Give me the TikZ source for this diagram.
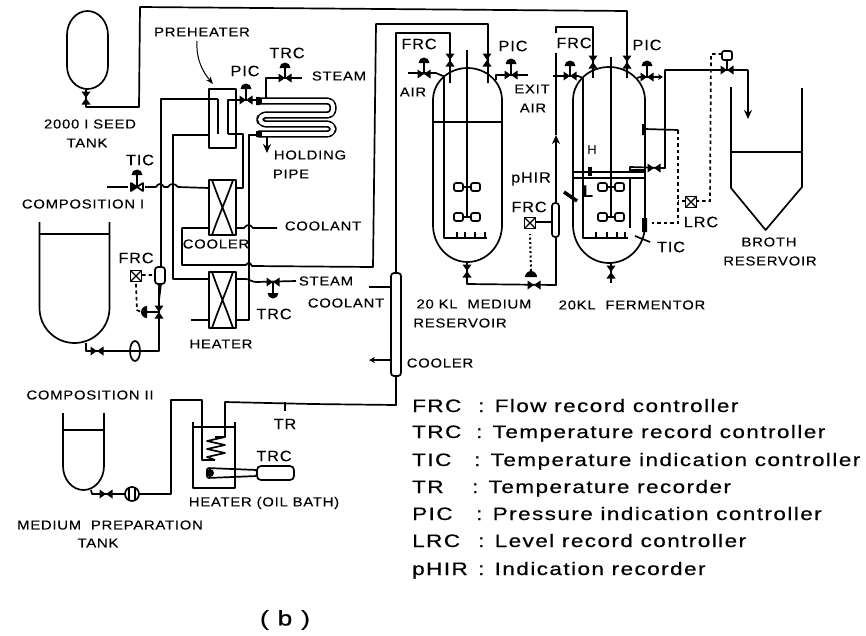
\documentclass[tikz,border=0pt]{standalone}
\usepackage{fontspec}
\setmainfont{Liberation Sans}
\newfontfamily\labfont[LetterSpace=6,FakeStretch=1.14,FakeBold=0.25]{Liberation Sans}
\newfontfamily\tagfont[LetterSpace=6,FakeStretch=1.08,FakeBold=0.25]{Liberation Sans}
\newfontfamily\legfont[LetterSpace=8,FakeStretch=1.25,FakeBold=0.5]{Liberation Sans}
\usetikzlibrary{arrows.meta}
\newcommand{\vvalve}[2]{\fill[black] (#1-4.5,#2-6.5)--(#1+4.5,#2-6.5)--(#1-4.5,#2+6.5)--(#1+4.5,#2+6.5)--cycle;}
\newcommand{\hvalve}[2]{\fill[black] (#1-6.5,#2-4.5)--(#1-6.5,#2+4.5)--(#1+6.5,#2-4.5)--(#1+6.5,#2+4.5)--cycle;}
\newcommand{\ovalve}[2]{\draw[pipe] (#1-6,#2-4)--(#1-6,#2+4)--(#1+6,#2-4)--(#1+6,#2+4)--cycle;}
\newcommand{\dome}[3]{\draw[pipe] (#1,#2)--(#1,#3); \fill[black] (#1-5.5,#3) arc[start angle=180,end angle=360,radius=5.5]--cycle;}
\newcommand{\domedown}[3]{\draw[pipe] (#1,#2)--(#1,#3); \fill[black] (#1-5.5,#3) arc[start angle=180,end angle=0,radius=5.5]--cycle;}
\newcommand{\capsule}[7]{\draw[pipe] (#1,#5) arc[start angle=180,end angle=360,x radius=(#3-#1)/2,y radius=#5-#4] -- (#3,#6) arc[start angle=0,end angle=180,x radius=(#3-#1)/2,y radius=#7-#6] -- cycle;}
\newcommand{\impeller}[2]{\draw[pipe,rounded corners=2pt] (#1-13,#2-4) rectangle (#1-4,#2+4); \draw[pipe,rounded corners=2pt] (#1+4,#2-4) rectangle (#1+13,#2+4); \draw[pipe] (#1-4,#2)--(#1+4,#2);}
\newcommand{\xbox}[2]{\draw[pipe,fill=white] (#1-5.5,#2-5.5) rectangle (#1+5.5,#2+5.5); \draw[thin1] (#1-5.5,#2-5.5)--(#1+5.5,#2+5.5) (#1+5.5,#2-5.5)--(#1-5.5,#2+5.5);}
\tikzset{
  pipe/.style={line width=1.7pt,black,line join=round},
  thin1/.style={line width=1.2pt,black},
  ctrl/.style={line width=1.7pt,black,dash pattern=on 3.5pt off 3pt},
  dotl/.style={line width=2pt,black,dash pattern=on 2pt off 2.5pt},
  flowarrow/.style={pipe,-{Stealth[length=9pt,width=8pt]}},
  lab/.style={inner sep=0pt,font=\fontsize{13}{15}\selectfont\labfont},
  tag/.style={inner sep=0pt,font=\fontsize{15}{17}\selectfont\tagfont},
  leg/.style={inner sep=0pt,anchor=base west,font=\fontsize{18}{20}\selectfont\legfont}
}
\begin{document}
\begin{tikzpicture}[x=1pt,y=-1pt]
\useasboundingbox (0,0) rectangle (866,635);
% seed tank and feed
\capsule{67}{87}{108}{11}{35}{66}{89}
\draw[pipe] (86,89)--(86,107)--(139,107)--(140,7)--(627,11)--(627,78);
\vvalve{86}{98}
% air lines
\draw[pipe] (488,83)--(488,24)--(376,24)--(373,267)--(252,266) .. controls (250,262) and (248,262) .. (246,265)--(182,265)--(182,228)--(209,228);
\draw[pipe] (236,228)--(244,228) .. controls (247,224) and (250,224) .. (253,228)--(277,228);
% preheater
\draw[pipe] (209,89) rectangle (236,148);
\draw[pipe] (218,99)--(161,99)--(161,267);
\draw[pipe] (218,99)--(218,134) (228,134)--(228,100)--(258,100);
\draw[pipe] (209,135)--(173,135)--(173,279)--(209,279);
\draw[pipe] (228,134)--(243,134)--(243,188)--(236,188);
\dome{246}{100}{89}
\hvalve{246}{100}
% TIC line
\draw[pipe] (107,187)--(128,187);
\draw[pipe] (145,187)--(156,187) .. controls (158,183) and (162,183) .. (164,187)--(168,187) .. controls (170,183) and (175,183) .. (178,187)--(209,188);
\dome{137}{187}{175}
\ovalve{137}{187}
\fill[black] (131,183)--(131,191)--(137,187)--cycle;
% cooler
\draw[pipe] (209,180) rectangle (236,235);
\draw[pipe] (212,235) .. controls (219,215) and (226,200) .. (233,180) (212,180) .. controls (219,200) and (226,215) .. (233,235);
% heater
\draw[pipe] (209,272) rectangle (236,328);
\draw[pipe] (212,328) .. controls (219,308) and (226,292) .. (233,272) (212,272) .. controls (219,292) and (226,308) .. (233,328);
\draw[pipe] (191,320)--(209,320);
\draw[pipe] (236,320)--(249,320)--(249,135)--(258,135);
\draw[pipe] (236,279)--(246,279) .. controls (249,279) and (252,282) .. (256,282)--(296,281);
\domedown{273}{282}{293}
\hvalve{273}{282}
% holding pipe
\draw[line width=7.2pt,black,line join=round,rounded corners=6pt] (258,101)--(333,101)--(333,115)--(260,115)--(260,124)--(333,124)--(333,134)--(258,134);
\draw[line width=3.8pt,white,line join=round,rounded corners=5pt] (262,101)--(333,101)--(333,115)--(260,115)--(260,124)--(333,124)--(333,134)--(262,134);
\fill[black] (256,97) rectangle (260,105) (256,131) rectangle (260,137);
\draw[flowarrow] (267,137)--(267,153);
\draw[pipe] (266,98)--(266,78)--(302,78);
\dome{285}{78}{68}
\hvalve{285}{78}
\draw[->,>=Stealth,line width=1pt] (197,41) .. controls (196,60) and (203,72) .. (213,84);
% composition I tank
\draw[pipe] (39.5,222)--(39.5,308) arc[start angle=180,end angle=0,x radius=35,y radius=35]--(109.5,222);
\draw[pipe] (39.5,234)--(109.5,234);
\draw[pipe] (86,343)--(86,351)--(130,351) (140,351)--(159,351)--(159,284);
\draw[pipe,fill=white] (135,351) ellipse[x radius=5,y radius=10];
\draw[pipe] (130,351)--(140,351);
\hvalve{97}{351}
\draw[pipe,fill=white,rounded corners=3pt] (155,267) rectangle (165,284);
\draw[pipe] (161,284)--(159,300);
\vvalve{159}{312}
\draw[pipe] (146,312)--(159,312);
\fill[black] (147,306) arc[start angle=270,end angle=90,radius=6]--cycle;
\draw[ctrl] (142,275)--(155,275) (136,284)--(137,310)--(141,312);
\xbox{136}{276}
% column cooler
\draw[pipe,fill=white,rounded corners=3pt] (391,273) rectangle (401,376);
\draw[pipe] (396,273)--(396,33)--(450,33)--(450,83);
\draw[pipe] (369,287)--(391,287);
\draw[pipe,-{Stealth[length=6pt,width=6pt]}] (391,360)--(369,360);
\draw[pipe] (396,376)--(396,405)--(312,404)--(225,402)--(225,437)--(215,437);
\draw[pipe] (285,402)--(285,411);
% zigzag
\draw[pipe] (225,437)--(207,441)--(225,445)--(207,449)--(225,453)--(207,457)--(215,460);
\draw[pipe] (215,460)--(202,460)--(202,400)--(171,400)--(171,494)--(139,494);
% oil bath
\draw[pipe] (193,422)--(193,488)--(235,488)--(235,422) (193,427)--(235,427);
\fill[black] (210,473) circle (4);
\draw[pipe,rounded corners=2pt] (207,468)--(257,470)--(257,476)--(207,478)--cycle;
\draw[pipe,rounded corners=4pt] (257,466) rectangle (294,480);
% medium prep tank
\draw[pipe] (63,413)--(63,466) arc[start angle=180,end angle=0,x radius=20.5,y radius=24]--(104,413);
\draw[pipe] (64,430)--(104,430);
\draw[pipe] (91,490)--(92,494)--(125,494);
\hvalve{106}{494}
\draw[pipe,fill=white] (132,494) circle (7);
\draw[pipe] (129,487)--(129,501) (135,487)--(135,501);
% medium reservoir
\capsule{433}{467}{502}{68}{100}{225}{262}
\draw[pipe] (433,122)--(502,122);
\draw[pipe] (467,50)--(467,217);
\draw[pipe] (444,75)--(444,238)--(487,238);
\draw[pipe] (457,238)--(457,232) (465,238)--(465,232) (475,238)--(475,232) (485,238)--(485,232);
\impeller{467}{187}
\impeller{467}{217}
\vvalve{450}{60}
\vvalve{487}{60}
\draw[pipe] (408,73)--(436,73)--(443,76);
\dome{424}{73}{63}
\hvalve{424}{74}
\draw[pipe] (496,80)--(496,75)--(528,75);
\dome{511}{75}{64}
\hvalve{511}{75}
\draw[pipe] (467,262)--(467,284)--(556,285)--(556,140);
\draw[flowarrow] (556,150)--(556,135);
\draw[pipe] (556,135)--(556,53);
\vvalve{467}{271}
\hvalve{534}{285}
\fill[black] (525,277) arc[start angle=180,end angle=360,radius=6]--cycle;
\draw[dotl] (531,271)--(530,234);
\draw[pipe,fill=white,rounded corners=3pt] (552,203) rectangle (559,237);
\draw[pipe] (536,222)--(552,222);
\xbox{530}{223}
% fermentor
\capsule{573}{609}{645}{67}{100}{225}{263}
\draw[pipe] (573,172)--(645,172) (573,178)--(645,178);
\draw[pipe] (556,33)--(556,27)--(593,27)--(593,78);
\vvalve{593}{62}
\vvalve{627}{62}
\draw[pipe] (611,57)--(611,217);
\draw[pipe] (583,78)--(583,238)--(628,238);
\draw[pipe] (596,238)--(596,232) (607,238)--(607,232) (617,238)--(617,232) (625,238)--(625,232);
\draw[pipe] (630,228)--(630,178);
\impeller{611}{187}
\impeller{611}{217}
\vvalve{611}{272}
\draw[pipe] (611,263)--(611,283);
\fill[black] (588,167) rectangle (592,176);
\draw[line width=3.5pt,black] (564,192)--(577,201);
\draw[pipe] (553,76)--(578,76)--(583,78);
\dome{570}{76}{66}
\hvalve{570}{76}
\draw[pipe] (637,78)--(640,77);
\draw[pipe,-{Stealth[length=5pt,width=6pt]}] (640,77)--(663,77);
\dome{647}{77}{66}
\hvalve{647}{77}
\draw[pipe] (630,172)--(630,167)--(665,168)--(665,70)--(748,70);
\draw[pipe] (630,170) -- (645,170);
\draw[flowarrow] (748,70)--(748,119);
\hvalve{654}{168}
\hvalve{727}{70}
\draw[pipe] (727,70)--(727,60);
\draw[pipe,fill=white,rounded corners=2pt] (722,51) rectangle (732,60);
\draw[ctrl] (722,54)--(711,54)--(710,201)--(697,201);
\xbox{691}{202}
\draw[pipe] (645,129)--(678,130);
\draw[ctrl] (678,130)--(678,223)--(652,223);
\draw[ctrl] (685,201)--(678,201);
\fill[black] (642,124) rectangle (645,135) (642,218) rectangle (647,232);
\draw[pipe] (635,236)--(650,242);
% broth reservoir
\draw[pipe] (731,87)--(731,188)--(765.6,230)--(802,187)--(802,88);
\draw[pipe] (731,152)--(802,152);
% labels
\node[lab] (t1) at (202,32) {PREHEATER};
\node[tag] (t2) at (287,53) {TRC};
\node[tag] (t3) at (245,71) {PIC};
\node[lab] (t4) at (339,76) {STEAM};
\node[lab] (t5) at (90,124) {2000 I  SEED};
\node[lab] (t6) at (87,143) {TANK};
\node[lab] (t7) at (310,155) {HOLDING};
\node[lab] (t8) at (291,174) {PIPE};
\node[tag] (t9) at (140,160) {TIC};
\node[lab] (t10) at (83,204) {COMPOSITION I};
\node[lab] (t11) at (323,226) {COOLANT};
\node[lab] (t12) at (216,244) {COOLER};
\node[tag] (t13) at (136,258) {FRC};
\node[lab] (t14) at (326,281) {STEAM};
\node[lab] (t15) at (346,303) {COOLANT};
\node[tag] (t16) at (274,314) {TRC};
\node[lab] (t17) at (221,344) {HEATER};
\node[lab] (t18) at (90,395) {COMPOSITION II};
\node[tag] (t19) at (285,424) {TR};
\node[tag] (t20) at (274,456) {TRC};
\node[lab] (t21) at (264,503) {HEATER (OIL BATH)};
\node[lab] (t22) at (110,525) {MEDIUM \ PREPARATION};
\node[lab] (t23) at (98,543) {TANK};
\node[tag] (t24) at (419,44) {FRC};
\node[tag] (t25) at (513,46) {PIC};
\node[lab] (t26) at (413,92) {AIR};
\node[lab] (t27) at (532,89) {EXIT};
\node[lab] (t28) at (533,108) {AIR};
\node[tag] (t29) at (574,43) {FRC};
\node[tag] (t30) at (647,45) {PIC};
\node[tag,font=\fontsize{13}{15}\selectfont] (t31) at (592,150) {H};
\node[tag] (t32) at (531,179) {pHIR};
\node[tag] (t33) at (529,207) {FRC};
\node[inner sep=0pt,font=\bfseries\fontsize{17}{19}\selectfont] (t34) at (588,192) {L};
\node[tag] (t35) at (701,222) {LRC};
\node[tag] (t36) at (671,247) {TIC};
\node[lab] (t37) at (769,242) {BROTH};
\node[lab] (t38) at (770,261) {RESERVOIR};
\node[lab] (t39) at (474,304) {20 KL \ MEDIUM};
\node[lab] (t40) at (460,323) {RESERVOIR};
\node[lab] (t41) at (632,305) {20KL \ FERMENTOR};
\node[lab] (t42) at (440,363) {COOLER};
% legend
\node[leg] (a1) at (412,412) {FRC};
\node[leg] (b1) at (478,412) {: Flow record controller};
\node[leg] (a2) at (412,438) {TRC};
\node[leg] (b2) at (476,438) {: Temperature record controller};
\node[leg] (a3) at (412,466) {TIC};
\node[leg] (b3) at (474,466) {: Temperature indication controller};
\node[leg] (a4) at (412,493) {TR};
\node[leg] (b4) at (472,493) {: Temperature recorder};
\node[leg] (a5) at (412,520) {PIC};
\node[leg] (b5) at (476,520) {: Pressure indication controller};
\node[leg] (a6) at (412,547) {LRC};
\node[leg] (b6) at (478,547) {: Level record controller};
\node[leg] (a7) at (412,575) {pHIR};
\node[leg] (b7) at (478,575) {: Indication recorder};
\node[inner sep=0pt,font=\fontsize{21}{23}\selectfont\legfont] (b) at (285,620) {( b )};
\end{tikzpicture}
\end{document}
